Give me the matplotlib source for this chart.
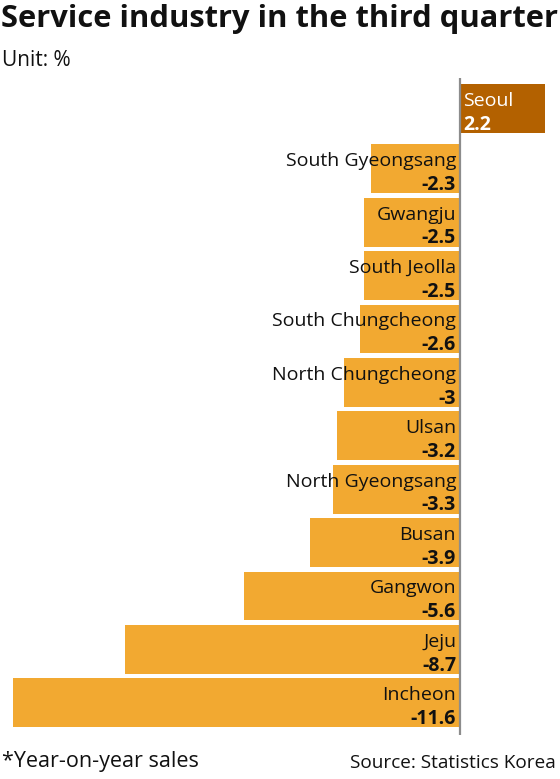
import matplotlib
matplotlib.use("Agg")
import matplotlib.pyplot as plt
from matplotlib import font_manager as fm

regions = ["Seoul", "South Gyeongsang", "Gwangju", "South Jeolla", "South Chungcheong",
           "North Chungcheong", "Ulsan", "North Gyeongsang", "Busan", "Gangwon", "Jeju", "Incheon"]
values = [2.2, -2.3, -2.5, -2.5, -2.6, -3, -3.2, -3.3, -3.9, -5.6, -8.7, -11.6]
value_labels = ["2.2", "-2.3", "-2.5", "-2.5", "-2.6", "-3", "-3.2", "-3.3", "-3.9", "-5.6", "-8.7", "-11.6"]

names = {f.name for f in fm.fontManager.ttflist}
fam = [f for f in ["Open Sans", "Lato", "DejaVu Sans"] if f in names]
plt.rcParams['font.family'] = fam

W, H = 560, 779
PT = 0.72  # points per pixel at dpi 100
fig = plt.figure(figsize=(W/100, H/100), dpi=100)
# axes spanning pixel rows 78..735
ax_top, ax_bot = 78, 735
ax = fig.add_axes([0, (H-ax_bot)/H, 1, (ax_bot-ax_top)/H])
zero_px, left_px = 460, 12.7
scale = (zero_px - left_px) / 11.6
ax.set_xlim(-zero_px/scale, (W-zero_px)/scale)
sp = 53.4
seoul_c = 108.8
ax.set_ylim((ax_bot-seoul_c)/sp, (ax_top-seoul_c)/sp)
ax.axis('off')

ypos = [0.0] + [i + 0.124 for i in range(1, len(regions))]
bar_h = 48.7 / sp
colors = ["#B36100" if v > 0 else "#F2A931" for v in values]
ax.barh(ypos, values, height=bar_h, color=colors, zorder=2)
ax.axvline(0, color="#8c8c8c", lw=1.6, zorder=3)

fs = 14
for y, name, v, lab in zip(ypos, regions, values, value_labels):
    top = (0, y - bar_h/2)
    if v > 0:
        dx, ha, col = 3.3*PT, 'left', 'white'
    else:
        dx, ha, col = -4.0*PT, 'right', '#111111'
    ax.annotate(name, top, xytext=(dx, -21.8*PT), textcoords='offset points',
                ha=ha, va='baseline', fontsize=fs, color=col, zorder=4)
    ax.annotate(lab, top, xytext=(dx, -45.5*PT), textcoords='offset points',
                ha=ha, va='baseline', fontsize=fs, fontweight='bold', color=col, zorder=4)

fig.text(1/W, 1 - 27/H, "Service industry in the third quarter", ha='left', va='baseline',
         fontsize=22.2, fontweight='bold', color='#111111')
fig.text(2/W, 1 - 66/H, "Unit: %", ha='left', va='baseline', fontsize=15, color='#111111')
fig.text(2/W, 1 - 766.7/H, "*Year-on-year sales", ha='left', va='baseline', fontsize=15.5, color='#111111')
fig.text(556/W, 1 - 768.3/H, "Source: Statistics Korea", ha='right', va='baseline', fontsize=13.7, color='#111111')

fig.savefig("out.png", dpi=100)
